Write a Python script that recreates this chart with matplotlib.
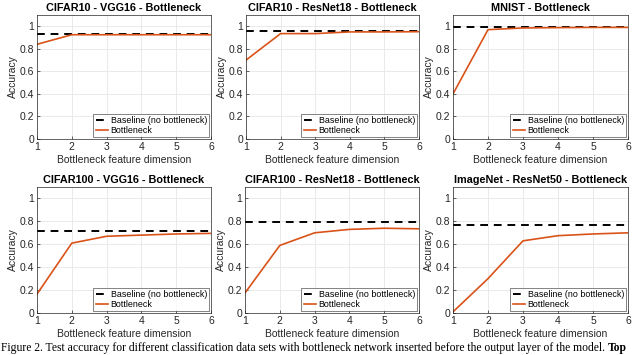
import numpy as np
import matplotlib
matplotlib.use('Agg')
import matplotlib.pyplot as plt

plt.rcParams['font.family'] = ['Liberation Sans', 'DejaVu Sans']

dims = [1, 2, 3, 4, 5, 6]

titles = ['CIFAR10 - VGG16 - Bottleneck', 'CIFAR10 - ResNet18 - Bottleneck', 'MNIST - Bottleneck',
          'CIFAR100 - VGG16 - Bottleneck', 'CIFAR100 - ResNet18 - Bottleneck', 'ImageNet - ResNet50 - Bottleneck']

baseline = [0.93, 0.955, 0.995, 0.715, 0.795, 0.765]

cifar10_vgg16 = [0.84, 0.925, 0.925, 0.925, 0.925, 0.925]
cifar10_resnet18 = [0.70, 0.935, 0.935, 0.95, 0.95, 0.952]
mnist = [0.40, 0.97, 0.985, 0.988, 0.99, 0.99]
cifar100_vgg16 = [0.165, 0.61, 0.67, 0.68, 0.69, 0.695]
cifar100_resnet18 = [0.175, 0.59, 0.70, 0.73, 0.74, 0.735]
imagenet_resnet50 = [0.01, 0.30, 0.63, 0.675, 0.69, 0.70]
bottleneck = [cifar10_vgg16, cifar10_resnet18, mnist, cifar100_vgg16, cifar100_resnet18, imagenet_resnet50]

yticks = [0, 0.2, 0.4, 0.6, 0.8, 1]
ytick_labels = ['0', '0.2', '0.4', '0.6', '0.8', '1']

caption = 'Figure 2. Test accuracy for different classification data sets with bottleneck network inserted before the output layer of the model.'

W, H = 640, 355
fig = plt.figure(figsize=(W / 100, H / 100), dpi=100)

# axes boxes in pixels: left, top, right, bottom
boxes = [(37, 15, 211, 139), (246, 15, 419, 139), (453, 15, 628, 139),
         (37, 187, 211, 313), (245, 187, 419, 313), (453, 187, 628, 313)]

axcol = '#262626'
for i, (l, t, r, b) in enumerate(boxes):
    ax = fig.add_axes([l / W, (H - b) / H, (r - l) / W, (b - t) / H])
    ax.plot([dims[0], dims[-1]], [baseline[i], baseline[i]], '--', color='black', lw=1.4,
            dashes=(4, 3), label='Baseline (no bottleneck)')
    ax.plot(dims, bottleneck[i], '-', color='#D95319', lw=1.2, label='Bottleneck')
    ax.set_xlim(1, 6)
    ax.set_ylim(0, 1.1)
    ax.set_xticks(dims)
    ax.set_yticks(yticks)
    ax.set_yticklabels(ytick_labels)
    ax.grid(True, color='#e6e6e6', lw=0.6)
    ax.set_axisbelow(True)
    ax.tick_params(direction='in', length=2, width=0.5, labelsize=7.5, colors=axcol, pad=2)
    for s in ax.spines.values():
        s.set_color(axcol)
        s.set_linewidth(0.5)
    ax.set_title(titles[i], fontsize=7.8, fontweight='bold', pad=3)
    ax.set_xlabel('Bottleneck feature dimension', fontsize=7.5, color=axcol, labelpad=2)
    ax.set_ylabel('Accuracy', fontsize=7.5, color=axcol, labelpad=1)
    leg = ax.legend(loc='lower right', fontsize=6.4, frameon=True, fancybox=False,
                    borderpad=0.25, labelspacing=0.1, handlelength=1.4, handletextpad=0.3,
                    borderaxespad=0.2)
    leg.get_frame().set_edgecolor(axcol)
    leg.get_frame().set_linewidth(0.5)

cy = (H - 348) / H
t = fig.text(0.002, cy, caption + ' ', fontsize=8.4, family='Liberation Serif', va='center', ha='left')
fig.canvas.draw()
bb = t.get_window_extent()
fig.text(bb.x1 / W, cy, 'Top', fontsize=8.4, family='Liberation Serif', fontweight='bold',
         va='center', ha='left')

fig.savefig('out.png', dpi=100)
